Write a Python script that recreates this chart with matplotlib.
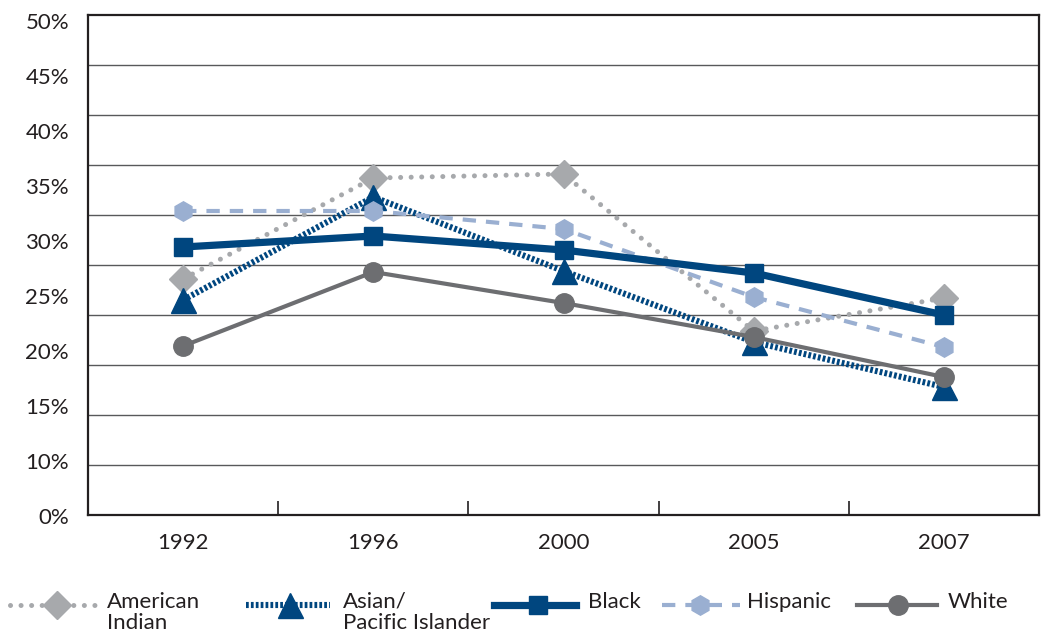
import matplotlib.pyplot as plt
import numpy as np
from matplotlib.lines import Line2D

plt.rcParams['font.family'] = ['Lato', 'DejaVu Sans']

years = ['1992', '1996', '2000', '2005', '2007']
american_indian = [23.6, 33.7, 34.1, 18.4, 21.7]
asian_pi = [21.5, 31.8, 24.4, 17.3, 12.8]
black = [26.8, 27.9, 26.5, 24.2, 20.0]
hispanic = [30.4, 30.4, 28.6, 21.8, 16.8]
white = [16.9, 24.3, 21.2, 17.8, 13.8]

ytick_labels = ['0%', '10%', '15%', '20%', '25%', '30%', '35%', '40%', '45%', '50%']

dark = '#231f20'
grid_c = '#58595b'
c_ai = '#a7a9ac'
c_navy = '#00467f'
c_hisp = '#9aafd1'
c_white = '#6d6e71'
fs = 16

W, H = 1044, 635
fig = plt.figure(figsize=(W / 100, H / 100), dpi=100)
ax = fig.add_axes([88 / W, 1 - 515 / H, 951 / W, 500 / H])

x = np.arange(len(years))

# series styles
ai_style = dict(color=c_ai, lw=3.6, linestyle=(0, (0.01, 2.1)), dash_capstyle='round',
                marker='D', ms=14.5, mec=c_ai, mfc=c_ai)
as_style = dict(color=c_navy, lw=4.4, linestyle=(0, (0.45, 0.35)), dash_capstyle='butt',
                marker='^', ms=18, mec=c_navy, mfc=c_navy)
bl_style = dict(color=c_navy, lw=5.2, linestyle='-', marker='s', ms=13.5, mec=c_navy, mfc=c_navy)
hi_style = dict(color=c_hisp, lw=3.0, linestyle=(0, (3.2, 2.4)), dash_capstyle='butt',
                marker='h', ms=14, mec=c_hisp, mfc=c_hisp)
wh_style = dict(color=c_white, lw=3.0, linestyle='-', marker='o', ms=14, mec=c_white, mfc=c_white)

ax.plot(x, american_indian, zorder=3, **ai_style)
ax.plot(x, asian_pi, zorder=4, **as_style)
ax.plot(x, hispanic, zorder=5, **hi_style)
ax.plot(x, black, zorder=6, **bl_style)
ax.plot(x, white, zorder=7, **wh_style)

ax.set_xlim(-0.5, len(years) - 0.5)
ax.set_ylim(0, 50)

# gridlines
for g in np.arange(5, 50, 5):
    ax.axhline(g, color=grid_c, lw=1.0, zorder=1)

for s in ax.spines.values():
    s.set_color(dark)
    s.set_linewidth(1.6)

# x ticks: marks between categories, labels at categories
ax.set_xticks(np.arange(0.5, len(years) - 1, 1.0))
ax.set_xticklabels([])
ax.tick_params(axis='x', which='major', direction='in', length=10, width=1.2, color=dark)
ax.set_xticks(x, minor=True)
ax.set_xticklabels(years, minor=True, fontsize=fs, color=dark)
ax.tick_params(axis='x', which='minor', length=0, pad=13)
ax.set_yticks([])

# y labels are evenly spaced in the original, not on the gridlines
ylab_pos = np.linspace(-0.3, 49.2, len(ytick_labels))
for lab, yp in zip(ytick_labels, ylab_pos):
    ax.text(-0.02, yp, lab, transform=ax.get_yaxis_transform(), ha='right', va='center',
            fontsize=fs, color=dark)

# legend drawn by hand along the bottom
lax = fig.add_axes([0, 0, 1, 1])
lax.set_xlim(0, W)
lax.set_ylim(H, 0)
lax.axis('off')
lax.patch.set_alpha(0)

legend_items = [
    (ai_style, 10, 97, 57, 107, 'American\nIndian'),
    (as_style, 246, 330, 290, 343, 'Asian/\nPacific Islander'),
    (bl_style, 494, 576, 538, 588, 'Black'),
    (hi_style, 662, 740, 700, 747, 'Hispanic'),
    (wh_style, 857, 937, 898, 948, 'White'),
]
ly = 605
for style, x0, x1, xm, xt, label in legend_items:
    st = dict(style)
    marker = st.pop('marker')
    ms = st.pop('ms')
    mec = st.pop('mec')
    mfc = st.pop('mfc')
    lax.add_line(Line2D([x0, x1], [ly, ly], **st))
    lax.add_line(Line2D([xm], [ly], marker=marker, ms=ms, mec=mec, mfc=mfc, linestyle='none'))
    lax.text(xt, ly - 13, label, ha='left', va='top', fontsize=fs, color=dark,
             linespacing=1.05)

fig.savefig('out.png', dpi=100)
